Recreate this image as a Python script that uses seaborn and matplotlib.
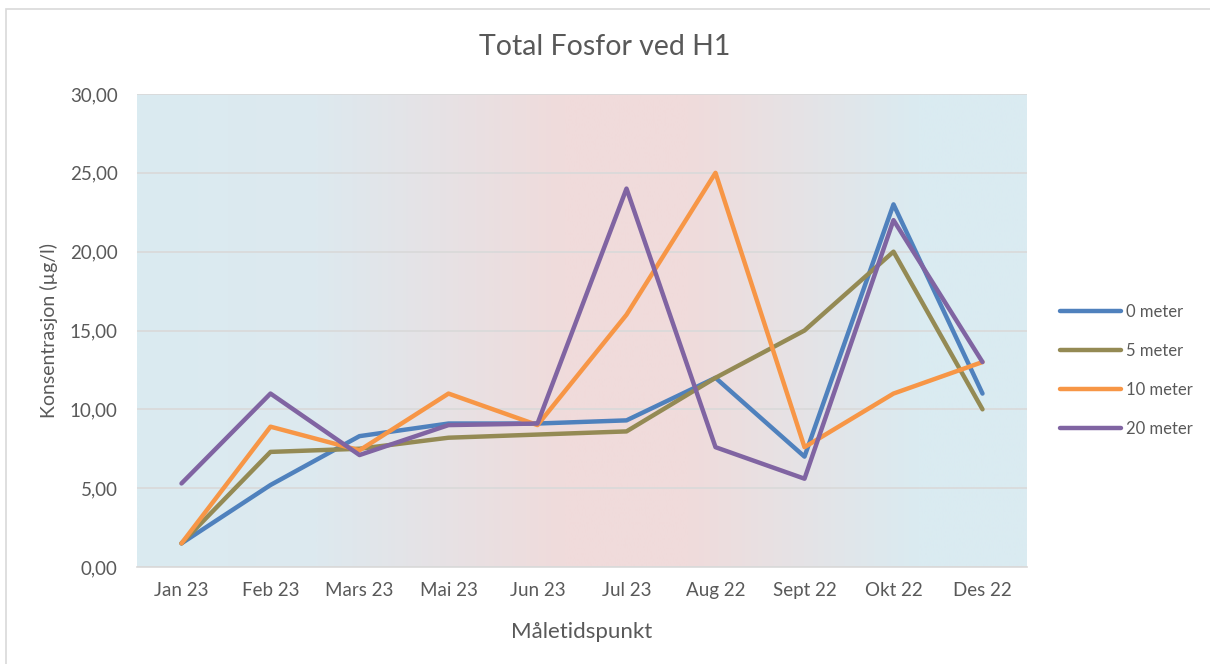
#!/usr/bin/env python3
import numpy as np
import matplotlib
matplotlib.use("Agg")
import matplotlib.pyplot as plt
from matplotlib.colors import LinearSegmentedColormap
from matplotlib.patches import Rectangle
import pandas as pd
import seaborn as sns

months = ["Jan 23", "Feb 23", "Mars 23", "Mai 23", "Jun 23", "Jul 23",
          "Aug 22", "Sept 22", "Okt 22", "Des 22"]
m0 = [1.5, 5.2, 8.3, 9.1, 9.1, 9.3, 12.0, 7.0, 23.0, 11.0]
m5 = [1.5, 7.3, 7.5, 8.2, 8.4, 8.6, 12.0, 15.0, 20.0, 10.0]
m10 = [1.5, 8.9, 7.4, 11.0, 9.0, 16.0, 25.0, 7.6, 11.0, 13.0]
m20 = [5.3, 11.0, 7.1, 9.0, 9.1, 24.0, 7.6, 5.6, 22.0, 13.0]
series = ["0 meter", "5 meter", "10 meter", "20 meter"]
colors = ["#4F81BD", "#948A54", "#F79646", "#8064A2"]

TXT = "#595959"
sns.set_style("white")
plt.rcParams['font.family'] = ['Lato', 'DejaVu Sans']

rows = []
for name, vals in zip(series, [m0, m5, m10, m20]):
    for i, v in enumerate(vals):
        rows.append((i, v, name))
df = pd.DataFrame(rows, columns=["pos", "value", "serie"])

fig = plt.figure(figsize=(12.1, 6.64), dpi=100)
ax = fig.add_axes([137/1210, 1 - 567/664, (1027-137)/1210, (567-94)/664])

# outer chart border
fig.patches.append(Rectangle((6/1210, -0.01), 1.0, 1 - 9/664 + 0.01, transform=fig.transFigure,
                             fill=False, edgecolor="#D9D9D9", linewidth=1.2))

# gradient background in plot area
cmap = LinearSegmentedColormap.from_list("bg", [
    (0.0, "#DAEBF1"), (0.2, "#DDE9EF"), (0.48, "#F0DBDB"), (0.62, "#F0DBDB"),
    (0.88, "#DAEBF1"), (1.0, "#DAEBF1")])
grad = np.linspace(0, 1, 400).reshape(1, -1)
ax.imshow(grad, aspect="auto", cmap=cmap, extent=(-0.5, 9.5, 0, 30), zorder=0)

sns.lineplot(data=df, x="pos", y="value", hue="serie", palette=colors,
             hue_order=series, linewidth=3.2, sort=False, ax=ax, zorder=3)

ax.set_xlim(-0.5, 9.5)
ax.set_ylim(0, 30)
ax.set_yticks(np.arange(0, 31, 5))
ax.set_yticklabels([f"{v:.2f}".replace(".", ",") for v in np.arange(0, 31, 5)])
ax.set_xticks(range(len(months)))
ax.set_xticklabels(months)
ax.tick_params(axis="both", length=0, labelsize=13.5, colors=TXT)
ax.tick_params(axis="x", pad=11)
ax.tick_params(axis="y", pad=14)
ax.grid(axis="y", color="#D9D9D9", linewidth=1.2, zorder=1)
ax.set_axisbelow(False)
for s in ["top", "right", "left"]:
    ax.spines[s].set_visible(False)
ax.spines["bottom"].set_color("#D9D9D9")
ax.spines["bottom"].set_linewidth(1.2)

ax.set_xlabel("Måletidspunkt", fontsize=16, color=TXT, labelpad=16)
ax.set_ylabel("Konsentrasjon (µg/l)", fontsize=14, color=TXT, labelpad=8)
fig.text(0.5, 1 - 47/664, "Total Fosfor ved H1", ha="center", va="center",
         fontsize=20.5, color=TXT)

leg = ax.legend(loc="center left", bbox_to_anchor=(1.02, 0.415), frameon=False,
                fontsize=12, handlelength=3.7, labelspacing=1.38, handletextpad=0.3)
for t in leg.get_texts():
    t.set_color(TXT)
for h in leg.get_lines():
    h.set_linewidth(3.2)

fig.savefig("out.png", dpi=100)
